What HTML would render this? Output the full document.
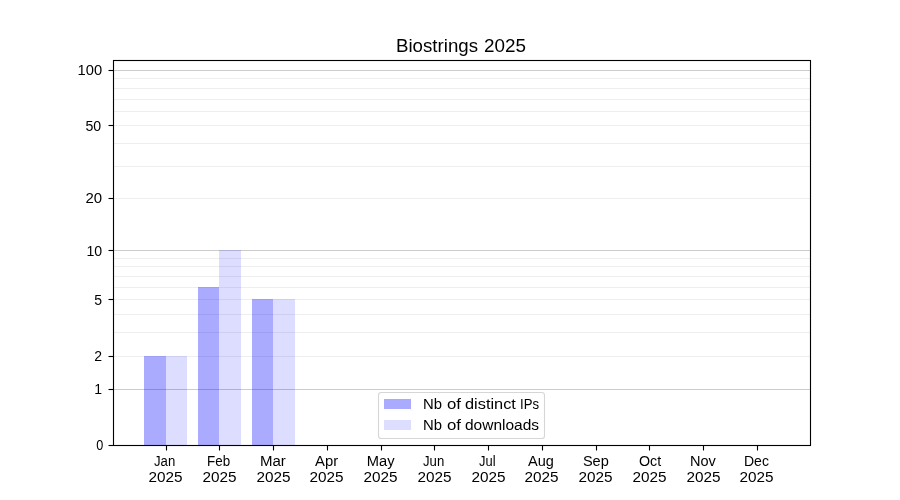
<!DOCTYPE html>
<html><head><meta charset="utf-8"><title>Biostrings 2025</title>
<style>html,body{margin:0;padding:0;background:#fff;overflow:hidden}svg{display:block}text{font-family:"Liberation Sans",sans-serif;fill:#000}</style>
</head><body>
<svg width="900" height="500" viewBox="0 0 900 500">
<rect x="0" y="0" width="900" height="500" fill="#fff"/>
<g stroke-width="1.11" fill="none">
<line x1="113.5" x2="810.5" y1="78.5" y2="78.5" stroke="#eeeeee"/>
<line x1="113.5" x2="810.5" y1="88.5" y2="88.5" stroke="#eeeeee"/>
<line x1="113.5" x2="810.5" y1="99.5" y2="99.5" stroke="#eeeeee"/>
<line x1="113.5" x2="810.5" y1="111.5" y2="111.5" stroke="#eeeeee"/>
<line x1="113.5" x2="810.5" y1="125.5" y2="125.5" stroke="#eeeeee"/>
<line x1="113.5" x2="810.5" y1="143.5" y2="143.5" stroke="#eeeeee"/>
<line x1="113.5" x2="810.5" y1="166.5" y2="166.5" stroke="#eeeeee"/>
<line x1="113.5" x2="810.5" y1="198.5" y2="198.5" stroke="#eeeeee"/>
<line x1="113.5" x2="810.5" y1="258.5" y2="258.5" stroke="#eeeeee"/>
<line x1="113.5" x2="810.5" y1="266.5" y2="266.5" stroke="#eeeeee"/>
<line x1="113.5" x2="810.5" y1="276.5" y2="276.5" stroke="#eeeeee"/>
<line x1="113.5" x2="810.5" y1="287.5" y2="287.5" stroke="#eeeeee"/>
<line x1="113.5" x2="810.5" y1="299.5" y2="299.5" stroke="#eeeeee"/>
<line x1="113.5" x2="810.5" y1="314.5" y2="314.5" stroke="#eeeeee"/>
<line x1="113.5" x2="810.5" y1="332.5" y2="332.5" stroke="#eeeeee"/>
<line x1="113.5" x2="810.5" y1="356.5" y2="356.5" stroke="#eeeeee"/>
<line x1="113.5" x2="810.5" y1="70.5" y2="70.5" stroke="#cccccc"/>
<line x1="113.5" x2="810.5" y1="250.5" y2="250.5" stroke="#cccccc"/>
<line x1="113.5" x2="810.5" y1="389.5" y2="389.5" stroke="#cccccc"/>
</g>
<g shape-rendering="crispEdges" fill="#0000ff">
<rect x="144" y="356" width="22" height="89" fill-opacity="0.3333"/>
<rect x="166" y="356" width="21" height="89" fill-opacity="0.1333"/>
<rect x="198" y="287" width="21" height="158" fill-opacity="0.3333"/>
<rect x="219" y="250" width="22" height="195" fill-opacity="0.1333"/>
<rect x="252" y="299" width="21" height="146" fill-opacity="0.3333"/>
<rect x="273" y="299" width="22" height="146" fill-opacity="0.1333"/>
</g>
<g stroke="#000" stroke-width="1.11" fill="none">
<line x1="108.5" x2="113.5" y1="70.5" y2="70.5"/>
<line x1="108.5" x2="113.5" y1="125.5" y2="125.5"/>
<line x1="108.5" x2="113.5" y1="198.5" y2="198.5"/>
<line x1="108.5" x2="113.5" y1="250.5" y2="250.5"/>
<line x1="108.5" x2="113.5" y1="299.5" y2="299.5"/>
<line x1="108.5" x2="113.5" y1="356.5" y2="356.5"/>
<line x1="108.5" x2="113.5" y1="389.5" y2="389.5"/>
<line x1="108.5" x2="113.5" y1="445.5" y2="445.5"/>
<line y1="445.5" y2="450.5" x1="166.5" x2="166.5"/>
<line y1="445.5" y2="450.5" x1="219.5" x2="219.5"/>
<line y1="445.5" y2="450.5" x1="273.5" x2="273.5"/>
<line y1="445.5" y2="450.5" x1="327.5" x2="327.5"/>
<line y1="445.5" y2="450.5" x1="381.5" x2="381.5"/>
<line y1="445.5" y2="450.5" x1="434.5" x2="434.5"/>
<line y1="445.5" y2="450.5" x1="488.5" x2="488.5"/>
<line y1="445.5" y2="450.5" x1="542.5" x2="542.5"/>
<line y1="445.5" y2="450.5" x1="596.5" x2="596.5"/>
<line y1="445.5" y2="450.5" x1="649.5" x2="649.5"/>
<line y1="445.5" y2="450.5" x1="703.5" x2="703.5"/>
<line y1="445.5" y2="450.5" x1="757.5" x2="757.5"/>
<rect x="113.5" y="60.5" width="697" height="385" stroke-linejoin="miter"/>
</g>
<rect x="378.5" y="392.5" width="166" height="46" rx="2.8" ry="2.8" fill="#fff" fill-opacity="0.8" stroke="#cccccc" stroke-opacity="0.8" stroke-width="1.11"/>
<g shape-rendering="crispEdges" fill="#0000ff">
<rect x="384" y="399" width="27" height="10" fill-opacity="0.3333"/>
<rect x="384" y="420" width="27" height="10" fill-opacity="0.1333"/>
</g>
<g style="filter:grayscale(1)">
<text x="396.00" y="52.00" font-size="17.60" textLength="82.00" lengthAdjust="spacingAndGlyphs">Biostrings</text>
<text x="483.98" y="52.00" font-size="17.60" textLength="41.95" lengthAdjust="spacingAndGlyphs">2025</text>
<text x="423.00" y="409.00" font-size="14.70" textLength="19.00" lengthAdjust="spacingAndGlyphs">Nb</text>
<text x="447.00" y="409.00" font-size="14.70" textLength="14.00" lengthAdjust="spacingAndGlyphs">of</text>
<text x="465.00" y="409.00" font-size="14.70" textLength="50.90" lengthAdjust="spacingAndGlyphs">distinct</text>
<text x="520.00" y="409.00" font-size="14.70" textLength="19.00" lengthAdjust="spacingAndGlyphs">IPs</text>
<text x="423.00" y="430.00" font-size="14.70" textLength="19.00" lengthAdjust="spacingAndGlyphs">Nb</text>
<text x="447.00" y="430.00" font-size="14.70" textLength="14.00" lengthAdjust="spacingAndGlyphs">of</text>
<text x="465.00" y="430.00" font-size="14.70" textLength="74.10" lengthAdjust="spacingAndGlyphs">downloads</text>
<text x="77.63" y="75.00" font-size="14.40" textLength="24.57" lengthAdjust="spacingAndGlyphs">100</text>
<text x="85.46" y="131.00" font-size="14.40" textLength="15.74" lengthAdjust="spacingAndGlyphs">50</text>
<text x="85.43" y="203.00" font-size="14.40" textLength="16.67" lengthAdjust="spacingAndGlyphs">20</text>
<text x="86.46" y="256.00" font-size="14.40" textLength="15.74" lengthAdjust="spacingAndGlyphs">10</text>
<text x="94.29" y="305.00" font-size="14.40" textLength="7.81" lengthAdjust="spacingAndGlyphs">5</text>
<text x="94.29" y="361.00" font-size="14.40" textLength="7.81" lengthAdjust="spacingAndGlyphs">2</text>
<text x="94.29" y="394.00" font-size="14.40" textLength="7.81" lengthAdjust="spacingAndGlyphs">1</text>
<text x="96.16" y="450.00" font-size="14.40" textLength="7.04" lengthAdjust="spacingAndGlyphs">0</text>
<text x="154.00" y="466.00" font-size="14.70" textLength="21.22" lengthAdjust="spacingAndGlyphs">Jan</text>
<text x="148.51" y="482.00" font-size="14.10" textLength="34.07" lengthAdjust="spacingAndGlyphs">2025</text>
<text x="207.04" y="466.00" font-size="14.70" textLength="23.06" lengthAdjust="spacingAndGlyphs">Feb</text>
<text x="202.51" y="482.00" font-size="14.10" textLength="34.07" lengthAdjust="spacingAndGlyphs">2025</text>
<text x="259.92" y="466.00" font-size="14.70" textLength="25.88" lengthAdjust="spacingAndGlyphs">Mar</text>
<text x="256.51" y="482.00" font-size="14.10" textLength="34.07" lengthAdjust="spacingAndGlyphs">2025</text>
<text x="315.00" y="466.00" font-size="14.70" textLength="23.10" lengthAdjust="spacingAndGlyphs">Apr</text>
<text x="309.51" y="482.00" font-size="14.10" textLength="34.07" lengthAdjust="spacingAndGlyphs">2025</text>
<text x="366.84" y="466.00" font-size="14.70" textLength="27.76" lengthAdjust="spacingAndGlyphs">May</text>
<text x="363.51" y="482.00" font-size="14.10" textLength="34.07" lengthAdjust="spacingAndGlyphs">2025</text>
<text x="423.00" y="466.00" font-size="14.70" textLength="21.22" lengthAdjust="spacingAndGlyphs">Jun</text>
<text x="417.51" y="482.00" font-size="14.10" textLength="34.07" lengthAdjust="spacingAndGlyphs">2025</text>
<text x="479.00" y="466.00" font-size="14.70" textLength="16.50" lengthAdjust="spacingAndGlyphs">Jul</text>
<text x="471.51" y="482.00" font-size="14.10" textLength="34.07" lengthAdjust="spacingAndGlyphs">2025</text>
<text x="528.00" y="466.00" font-size="14.70" textLength="25.83" lengthAdjust="spacingAndGlyphs">Aug</text>
<text x="524.51" y="482.00" font-size="14.10" textLength="34.07" lengthAdjust="spacingAndGlyphs">2025</text>
<text x="582.92" y="466.00" font-size="14.70" textLength="25.92" lengthAdjust="spacingAndGlyphs">Sep</text>
<text x="578.51" y="482.00" font-size="14.10" textLength="34.07" lengthAdjust="spacingAndGlyphs">2025</text>
<text x="639.00" y="466.00" font-size="14.70" textLength="22.20" lengthAdjust="spacingAndGlyphs">Oct</text>
<text x="632.51" y="482.00" font-size="14.10" textLength="34.07" lengthAdjust="spacingAndGlyphs">2025</text>
<text x="689.92" y="466.00" font-size="14.70" textLength="25.88" lengthAdjust="spacingAndGlyphs">Nov</text>
<text x="686.51" y="482.00" font-size="14.10" textLength="34.07" lengthAdjust="spacingAndGlyphs">2025</text>
<text x="743.96" y="466.00" font-size="14.70" textLength="24.94" lengthAdjust="spacingAndGlyphs">Dec</text>
<text x="739.51" y="482.00" font-size="14.10" textLength="34.07" lengthAdjust="spacingAndGlyphs">2025</text>
</g>
</svg>
</body></html>
